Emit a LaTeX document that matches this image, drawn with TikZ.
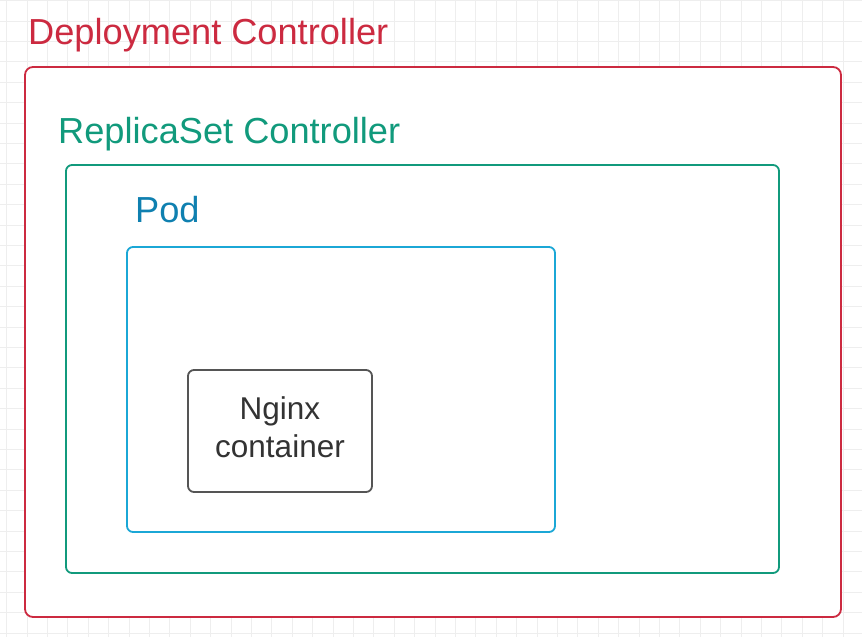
\documentclass[tikz,border=0pt]{standalone}
\usepackage{fontspec}
\setmainfont{Liberation Sans}
\definecolor{depred}{HTML}{CC2A40}
\definecolor{rsgreen}{HTML}{119A7C}
\definecolor{podline}{HTML}{1BA7D6}
\definecolor{podtext}{HTML}{0F80B0}
\definecolor{ctrgray}{HTML}{555555}
\definecolor{gridc}{HTML}{EEEEEE}
\begin{document}
\begin{tikzpicture}[x=1pt,y=-1pt,
  box/.style={draw, line width=1.8pt, fill=white, rounded corners=#1, inner sep=0pt},
  box/.default=6pt,
  ttl/.style={anchor=base west, inner sep=0pt, font=\fontsize{36.2}{42}\selectfont}]
\useasboundingbox (0,0) rectangle (862,637);
\fill[white] (0,0) rectangle (862,637);
\foreach \i in {0,...,42} \draw[gridc, line width=0.8pt] (6.5+20.4*\i,0) -- (6.5+20.4*\i,637);
\foreach \i in {0,...,31} \draw[gridc, line width=0.8pt] (0,0.6+20.4*\i) -- (862,0.6+20.4*\i);
\node[box=8pt, draw=depred, minimum width=816pt, minimum height=550pt] (dep) at (433,342) {};
\node[ttl, text=depred] (deplabel) at (28,44) {Deployment Controller};
\node[box, draw=rsgreen, minimum width=713pt, minimum height=408pt] (rs) at (422.5,369) {};
\node[ttl, text=rsgreen] (rslabel) at (58,143) {ReplicaSet Controller};
\node[box, draw=podline, minimum width=428pt, minimum height=285pt] (pod) at (341,389.5) {};
\node[ttl, text=podtext] (podlabel) at (135,222) {Pod};
\node[box, draw=ctrgray, minimum width=184pt, minimum height=122pt] (nginx) at (280,431) {};
\node[text=black!80, align=center, inner sep=0pt, font=\fontsize{31.5}{38.5}\selectfont]
  (nginxtext) at ([yshift=4pt]nginx.center) {Nginx\\container};
\end{tikzpicture}
\end{document}
